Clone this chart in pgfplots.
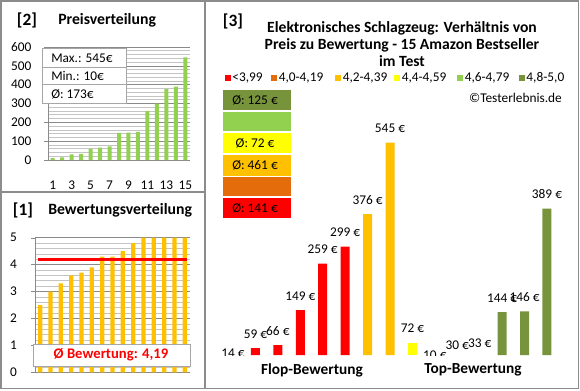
\documentclass[border=0pt]{standalone}
\usepackage{pgfplots}
\pgfplotsset{compat=1.18}
\usepackage{fontspec}
\setmainfont{Carlito}
\definecolor{cRed}{HTML}{FF0000}
\definecolor{cOrange}{HTML}{E46C0A}
\definecolor{cGold}{HTML}{FFC000}
\definecolor{cYellow}{HTML}{FFFF00}
\definecolor{cLGreen}{HTML}{92D050}
\definecolor{cDGreen}{HTML}{77933C}
\definecolor{frameC}{HTML}{8C8C8C}
\definecolor{gridMaj}{HTML}{8A8A8A}
\definecolor{gridMin}{HTML}{C4C4C4}
\definecolor{boxC}{HTML}{A6A6A6}
\pgfplotsset{/pgf/number format/assume math mode=true}
\newcommand{\fs}[1]{\fontsize{#1}{#1}\selectfont}
\begin{document}
\begin{tikzpicture}[x=0.75pt,y=0.75pt]
\path[use as bounding box] (0,0) rectangle (580,390);
% frames
\draw[frameC, line width=1.2pt] (1,1.5) rectangle (578.5,389);
\draw[frameC, line width=1.2pt] (205,1.5) -- (205,389);
\draw[frameC, line width=1.2pt] (1,198) -- (205,198);

% ---------- Panel 2: Preisverteilung
\begin{axis}[at={(36pt,172.5pt)}, anchor=south west, scale only axis,
  width=106.5pt, height=84.75pt,
  xmin=0.5, xmax=15.5, ymin=0, ymax=600,
  ytick={0,100,...,600}, minor y tick num=4,
  xtick={1,3,...,15},
  ymajorgrids, yminorgrids,
  major grid style={gridMaj, line width=0.5pt},
  minor grid style={gridMin, line width=0.5pt},
  axis x line*=bottom, axis y line*=left,
  axis line style={gridMaj,-},
  xtick style={draw=none}, ytick style={gridMaj},
  minor tick length=0pt, major tick length=3pt, tick align=outside,
  ticklabel style={font=\fs{10}},
  yticklabel style={xshift=-6pt},
  xticklabel style={yshift=-9pt},
]
\addplot[ybar, bar width=3pt, bar shift=0pt, fill=cLGreen, draw=none] coordinates {
(1,10) (2,14) (3,30) (4,33) (5,59) (6,66) (7,72) (8,144) (9,146) (10,149) (11,259) (12,299) (13,376) (14,389) (15,545)};
\end{axis}
\draw[boxC, fill=white, line width=0.7pt] (42,287) rectangle (126,342);
\draw[boxC, line width=0.7pt] (42,323) -- (126,323) (42,306) -- (126,306);
\node[anchor=west, font=\fs{10}, inner sep=0pt] at (51,332) {Max.: 545€};
\node[anchor=west, font=\fs{10}, inner sep=0pt] at (51,314) {Min.: 10€};
\node[anchor=west, font=\fs{10}, inner sep=0pt] at (51,296) {Ø: 173€};
\node[font=\bfseries\fs{13}] at (27,370) {[2]};
\node[anchor=west, font=\bfseries\fs{11.8}, inner sep=0pt] at (58,370) {Preisverteilung};

% ---------- Panel 1: Bewertungsverteilung
\begin{axis}[at={(26.25pt,13.275pt)}, anchor=south west, scale only axis,
  width=116.25pt, height=100.95pt,
  xmin=0.5, xmax=15.5, ymin=0, ymax=5,
  ytick={0,1,...,5}, minor y tick num=4,
  xtick=\empty,
  ymajorgrids, yminorgrids,
  major grid style={gridMaj, line width=0.5pt},
  minor grid style={gridMin, line width=0.5pt},
  axis x line*=bottom, axis y line*=left,
  axis line style={gridMaj,-},
  ytick style={gridMaj},
  minor tick length=0pt, major tick length=3pt, tick align=outside,
  ticklabel style={font=\fs{10}},
  yticklabel style={xshift=-7pt},
]
\addplot[ybar, bar width=3.2pt, bar shift=0pt, fill=cGold, draw=none] coordinates {
(1,2.5) (2,3.0) (3,3.3) (4,3.6) (5,3.7) (6,3.9) (7,4.3) (8,4.3) (9,4.5) (10,4.8) (11,5) (12,5) (13,5) (14,5) (15,5)};
\addplot[cRed, line width=2.3pt] coordinates {(0.78,4.19) (15.2,4.19)};
\end{axis}
\draw[boxC, fill=white, line width=0.7pt] (33,24) rectangle (190,46);
\node[font=\bfseries\fs{11}, text=cRed] at (111,35) {Ø Bewertung: 4,19};
\node[font=\bfseries\fs{13}] at (23,180) {[1]};
\node[anchor=west, font=\bfseries\fs{11.8}, inner sep=0pt] at (48,180) {Bewertungsverteilung};

% ---------- Panel 3
\begin{axis}[at={(166.35pt,26.25pt)}, anchor=south west, scale only axis,
  width=252.3pt, height=191.25pt,
  xmin=0.5, xmax=15.5, ymin=42.5, ymax=646,
  axis line style={draw=none}, ytick=\empty,
  xtick={4.52,11.7}, xticklabels={Flop-Bewertung,Top-Bewertung},
  xtick style={draw=none},
  xticklabel style={font=\bfseries\fs{11.5}, yshift=-3pt},
  point meta=y,
  lbl/.style={nodes near coords={\pgfmathprintnumber[fixed,precision=0]{\pgfplotspointmeta}~€},
    every node near coord/.append style={font=\fs{10}, anchor=south, inner sep=0pt, yshift=7pt}},
]
% bars below the axis minimum are not visible in the chart
\addplot[ybar, bar width=6.75pt, bar shift=0pt, fill=cRed, draw=none, restrict y to domain=42.5:2000] coordinates {(1,14)};
\addplot[ybar, bar width=6.75pt, bar shift=0pt, fill=cRed, draw=none, lbl] coordinates {
(2,59) (3,66) (4,149) (5,259) (6,299)};
\addplot[ybar, bar width=6.75pt, bar shift=0pt, fill=cGold, draw=none, lbl] coordinates {
(7,376) (8,545)};
\addplot[ybar, bar width=6.75pt, bar shift=0pt, fill=cYellow, draw=none, lbl] coordinates {
(9,72)};
\addplot[ybar, bar width=6.75pt, bar shift=0pt, fill=cDGreen, draw=none, restrict y to domain=42.5:2000] coordinates {
(10,10) (11,30) (12,33)};
\addplot[ybar, bar width=6.75pt, bar shift=0pt, fill=cDGreen, draw=none, lbl] coordinates {
(13,144) (14,146) (15,389)};
\begin{scope}
\clip ([yshift=-2pt]rel axis cs:0,0) rectangle (rel axis cs:1,1);
\node[font=\fs{10}, anchor=south, inner sep=0pt, yshift=7pt] at (axis cs:1,14) {14~€};
\node[font=\fs{10}, anchor=south, inner sep=0pt, yshift=7pt] at (axis cs:10,10) {10~€};
\node[font=\fs{10}, anchor=south, inner sep=0pt, yshift=8pt] at (axis cs:11,30) {30~€};
\node[font=\fs{10}, anchor=south, inner sep=0pt, yshift=8pt] at (axis cs:12,33) {33~€};
\end{scope}
\end{axis}
\node[font=\bfseries\fs{13}] at (233,369) {[3]};
\node[font=\bfseries\fs{11.7}, align=center, inner sep=0pt] at (402,346)
  {Elektronisches Schlagzeug: Verhältnis von\\[1pt]Preis zu Bewertung - 15 Amazon Bestseller\\[1pt]im Test};
% legend
\foreach \xx/\cc/\tt in {227.7/cRed/{<3,99}, 274/cOrange/{4,0-4,19}, 338/cGold/{4,2-4,39}, 397/cYellow/{4,4-4,59}, 460/cLGreen/{4,6-4,79}, 521.7/cDGreen/{4,8-5,0}}{
  \fill[\cc] (\xx-3,309) rectangle (\xx+3,315);
  \node[anchor=west, font=\fs{10}, inner sep=0pt] at (\xx+4.5,312) {\tt};
}
\node[font=\fs{10}] at (515.5,292) {©Testerlebnis.de};
% summary boxes
\fill[cDGreen] (223,280) rectangle (291,300);
\fill[cLGreen] (223,259) rectangle (291,278);
\fill[cYellow] (223,237) rectangle (291,257);
\fill[cGold] (223,214) rectangle (291,235);
\fill[cOrange] (223,194) rectangle (291,213);
\fill[cRed] (223,172) rectangle (291,192);
\node[font=\fs{10}] at (255,290) {Ø: 125 €};
\node[font=\fs{10}] at (255,247) {Ø: 72 €};
\node[font=\fs{10}] at (255,224.5) {Ø: 461 €};
\node[font=\fs{10}] at (255,182) {Ø: 141 €};
\end{tikzpicture}
\end{document}
